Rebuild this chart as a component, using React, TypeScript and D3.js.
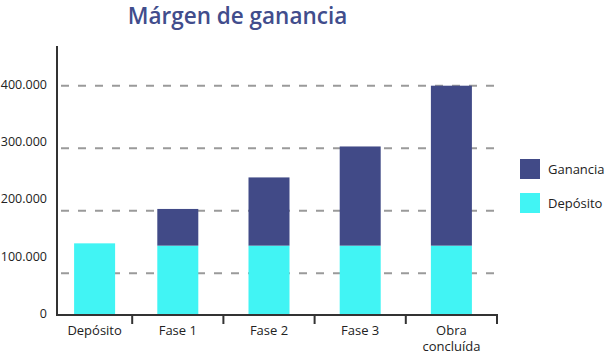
import React from "react";
import * as d3 from "d3";

const categories = ["Depósito", "Fase 1", "Fase 2", "Fase 3", "Obra concluída"];
const depositoValues = [125000, 121000, 121000, 121000, 121000];
const gananciaValues = [0, 64000, 119000, 173000, 279000];
const yTicks = [0, 100000, 200000, 300000, 400000];
const gridValues = [73000, 182000, 291000, 400000];
const legendItems = ["Ganancia", "Depósito"];

const W = 610;
const H = 355;
const axisX = 57;
const axisTop = 46;
const NAVY = "#414a87";
const CYAN = "#41f4f4";
const FONT = "'Open Sans', sans-serif";

export default function App() {
  const x = d3.scaleBand<string>().domain(categories).range([41, 497]).paddingInner(0).paddingOuter(0);
  const y = d3.scaleLinear().domain([0, 400000]).range([315, 85.7]);
  const step = x.step();
  const barW = 41;
  const fmt = (v: number) => (v === 0 ? "0" : d3.format(",")(v).replace(/,/g, "."));
  const center = (c: string) => {
    const s = x(c)!;
    return (Math.max(s, axisX) + s + step) / 2;
  };
  const colors = [NAVY, CYAN];
  return (
    <svg width={W} height={H} style={{ position: "absolute", left: 0, top: 0, background: "#fff" }}>
      <text x={237.5} y={24} textAnchor="middle" fontFamily={FONT} fontSize={22.5} fontWeight={600} fill="#414d8c">
        Márgen de ganancia
      </text>
      {gridValues.map((g) => (
        <line key={g} x1={axisX} x2={500} y1={y(g)} y2={y(g)} stroke="#9a9a9a" strokeWidth={2} strokeDasharray="8,9" strokeDashoffset={-4} />
      ))}
      {categories.map((c, i) => {
        const cx = center(c);
        return (
          <g key={c}>
            <rect x={cx - barW / 2} width={barW} y={y(depositoValues[i])} height={y(0) - y(depositoValues[i])} fill={CYAN} />
            {gananciaValues[i] > 0 && (
              <rect
                x={cx - barW / 2}
                width={barW}
                y={y(depositoValues[i] + gananciaValues[i])}
                height={y(depositoValues[i]) - y(depositoValues[i] + gananciaValues[i])}
                fill={NAVY}
              />
            )}
          </g>
        );
      })}
      <line x1={axisX} x2={axisX} y1={axisTop} y2={y(0) + 1} stroke="#333" strokeWidth={2} />
      <line x1={axisX - 1} x2={498} y1={y(0)} y2={y(0)} stroke="#333" strokeWidth={2} />
      {categories.map((c) => (
        <line key={"t" + c} x1={x(c)! + step} x2={x(c)! + step} y1={y(0)} y2={y(0) + 9} stroke="#333" strokeWidth={2} />
      ))}
      {yTicks.map((t) => (
        <text key={t} x={47} y={y(t) - 1} dy="0.33em" textAnchor="end" fontFamily={FONT} fontSize={12.5} fill="#222">
          {fmt(t)}
        </text>
      ))}
      {categories.map((c) => {
        const words = c === "Obra concluída" ? ["Obra", "concluída"] : [c];
        return (
          <text key={"l" + c} x={center(c)} y={335} textAnchor="middle" fontFamily={FONT} fontSize={13} fill="#222">
            {words.map((w, k) => (
              <tspan key={w} x={center(c)} dy={k === 0 ? 0 : 16}>
                {w}
              </tspan>
            ))}
          </text>
        );
      })}
      {legendItems.map((l, i) => (
        <g key={l} transform={`translate(520, ${159 + i * 34})`}>
          <rect width={20} height={20} fill={colors[i]} />
          <text x={28} y={10} dy="0.35em" fontFamily={FONT} fontSize={13} fill="#222">
            {l}
          </text>
        </g>
      ))}
    </svg>
  );
}
